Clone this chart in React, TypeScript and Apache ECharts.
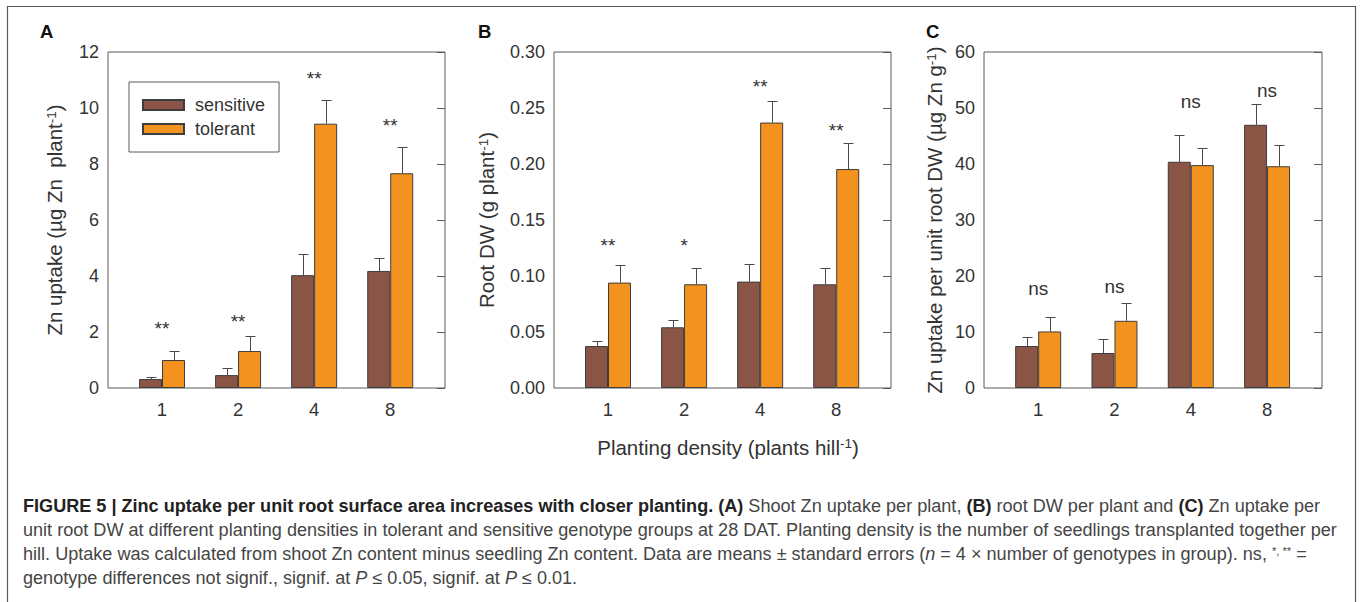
import React, { useEffect, useRef } from 'react';
import * as echarts from 'echarts';

// ---------- data ----------
const categories = ['1', '2', '4', '8'];
const seriesNames = ['sensitive', 'tolerant'];

// Panel A: Zn uptake (µg Zn plant-1)
const uptakeSensitive = [0.32, 0.46, 4.03, 4.18];
const uptakeSensitiveSE = [0.06, 0.24, 0.74, 0.45];
const uptakeTolerant = [1.0, 1.32, 9.44, 7.67];
const uptakeTolerantSE = [0.32, 0.55, 0.85, 0.93];
const uptakeSig = ['**', '**', '**', '**'];
const uptakeSigY = [2.11, 2.36, 11.04, 9.39];

// Panel B: Root DW (g plant-1)
const rootSensitive = [0.0375, 0.0542, 0.095, 0.0926];
const rootSensitiveSE = [0.0045, 0.0068, 0.0157, 0.0149];
const rootTolerant = [0.0941, 0.0926, 0.237, 0.1955];
const rootTolerantSE = [0.0159, 0.0149, 0.019, 0.0233];
const rootSig = ['**', '*', '**', '**'];
const rootSigY = [0.1268, 0.1268, 0.2696, 0.2295];

// Panel C: Zn uptake per unit root DW (µg Zn g-1)
const perRootSensitive = [7.5, 6.25, 40.4, 47.0];
const perRootSensitiveSE = [1.6, 2.55, 4.7, 3.8];
const perRootTolerant = [10.1, 12.0, 39.8, 39.6];
const perRootTolerantSE = [2.5, 3.1, 3.1, 3.8];
const perRootSig = ['ns', 'ns', 'ns', 'ns'];
const perRootSigY = [17.8, 18.2, 51.2, 53.2];

// axis ranges
const yMaxes = [12, 0.3, 60];
const yIntervals = [2, 0.05, 10];
const yDecimals = [0, 2, 0];
const yNames = [
  'Zn uptake (\u00b5g Zn  plant{sup|-1})',
  'Root DW (g plant{sup|-1})',
  'Zn uptake per unit root DW (\u00b5g Zn g{sup|-1})',
];
const xName = 'Planting density (plants hill{sup|-1})';
const panelLetters = ['A', 'B', 'C'];

const captionLines = [
  '{b|FIGURE 5 | Zinc uptake per unit root surface area increases with closer planting. (A)} Shoot Zn uptake per plant, {b|(B)} root DW per plant and {b|(C)} Zn uptake per',
  'unit root DW at different planting densities in tolerant and sensitive genotype groups at 28 DAT. Planting density is the number of seedlings transplanted together per',
  'hill. Uptake was calculated from shoot Zn content minus seedling Zn content. Data are means \u00b1 standard errors ({i|n} = 4 \u00d7 number of genotypes in group). ns, {sup|*, **} =',
  'genotype differences not signif., signif. at {i|P} \u2264 0.05, signif. at {i|P} \u2264 0.01.',
];

// ---------- styles ----------
const FONT = '"Liberation Sans", Arial, Helvetica, sans-serif';
const TXT = '#333';
const FRAME = '#5a5a5a';
const SENS_COLOR = '#8b5546';
const TOL_COLOR = '#f3921e';
const BAR_BORDER = '#3d3d3d';
const ERR_COLOR = '#4a4a4a';
const NAME_SIZE = 20.5;
const SUP_SIZE = 13.5;

const grids = [
  { left: 108, top: 52, width: 337, height: 336 },
  { left: 554, top: 52, width: 337, height: 336 },
  { left: 984, top: 52, width: 338, height: 336 },
];
const nameGaps = [43, 57, 39];
const letterX = [40, 478, 926];

function errItem(offset: number) {
  return (params: any, api: any) => {
    const x = api.value(0);
    const m = api.value(1);
    const s = api.value(2);
    const p0 = api.coord([x, m]);
    const p1 = api.coord([x, m + s]);
    const cx = Math.round(p0[0] + offset) + 0.5;
    const ty = Math.round(p1[1]) + 0.5;
    return {
      type: 'group',
      children: [
        { type: 'line', shape: { x1: cx, y1: p0[1], x2: cx, y2: ty }, style: { stroke: ERR_COLOR, lineWidth: 1 } },
        { type: 'line', shape: { x1: cx - 5, y1: ty, x2: cx + 5, y2: ty }, style: { stroke: ERR_COLOR, lineWidth: 1 } },
      ],
    };
  };
}

function sigItem(labels: string[]) {
  return (params: any, api: any) => {
    const p = api.coord([api.value(0), api.value(1)]);
    return {
      type: 'text',
      x: p[0],
      y: p[1],
      style: {
        text: labels[params.dataIndex],
        fontSize: 19,
        fontFamily: FONT,
        fill: TXT,
        align: 'center',
        verticalAlign: 'middle',
      },
    };
  };
}

export default function App() {
  const ref = useRef<HTMLDivElement>(null);

  useEffect(() => {
    if (!ref.current) return;
    const chart = echarts.init(ref.current, undefined, { renderer: 'svg' });

    // fit caption font size to the reference line width
    let capSize = 16;
    try {
      const ctx = document.createElement('canvas').getContext('2d');
      if (ctx) {
        ctx.font = `16px ${FONT}`;
        const w = ctx.measureText(captionLines[1]).width;
        if (w > 0) capSize = (16 * 1314) / w;
      }
    } catch (e) {
      capSize = 16;
    }

    const panels = [
      [uptakeSensitive, uptakeSensitiveSE, uptakeTolerant, uptakeTolerantSE, uptakeSig, uptakeSigY],
      [rootSensitive, rootSensitiveSE, rootTolerant, rootTolerantSE, rootSig, rootSigY],
      [perRootSensitive, perRootSensitiveSE, perRootTolerant, perRootTolerantSE, perRootSig, perRootSigY],
    ] as any[];

    const series: any[] = [];
    panels.forEach((p, i) => {
      const [sens, sensSE, tol, tolSE, sig, sigY] = p;
      series.push({
        type: 'bar',
        name: seriesNames[0],
        xAxisIndex: i,
        yAxisIndex: i,
        data: sens.map((v: number, k: number) => [k, v]),
        barWidth: 23,
        barGap: '0%',
        itemStyle: { color: SENS_COLOR, borderColor: BAR_BORDER, borderWidth: 1 },
        z: 2,
      });
      series.push({
        type: 'bar',
        name: seriesNames[1],
        xAxisIndex: i,
        yAxisIndex: i,
        data: tol.map((v: number, k: number) => [k, v]),
        barWidth: 23,
        barGap: '0%',
        itemStyle: { color: TOL_COLOR, borderColor: BAR_BORDER, borderWidth: 1 },
        z: 2,
      });
      series.push({
        type: 'custom',
        name: 'errS' + i,
        xAxisIndex: i,
        yAxisIndex: i,
        data: sens.map((v: number, k: number) => [k, v, sensSE[k]]),
        encode: { x: 0, y: 1 },
        renderItem: errItem(-11.5),
        silent: true,
        z: 3,
      });
      series.push({
        type: 'custom',
        name: 'errT' + i,
        xAxisIndex: i,
        yAxisIndex: i,
        data: tol.map((v: number, k: number) => [k, v, tolSE[k]]),
        encode: { x: 0, y: 1 },
        renderItem: errItem(11.5),
        silent: true,
        z: 3,
      });
      series.push({
        type: 'custom',
        name: 'sig' + i,
        xAxisIndex: i,
        yAxisIndex: i,
        data: sigY.map((v: number, k: number) => [k, v]),
        encode: { x: 0, y: 1 },
        renderItem: sigItem(sig),
        silent: true,
        z: 4,
      });
    });

    const xAxis = grids.map((g, i) => ({
      type: 'value',
      gridIndex: i,
      min: -0.71,
      max: 3.72,
      axisLine: { show: false },
      axisTick: { show: false },
      splitLine: { show: false },
      axisLabel: {
        customValues: [0, 1, 2, 3],
        formatter: (v: number) => categories[Math.round(v)] ?? '',
        fontSize: 18.5,
        color: TXT,
        fontFamily: FONT,
        margin: 12,
      },
    }));

    const yLeft = grids.map((g, i) => ({
      type: 'value',
      gridIndex: i,
      min: 0,
      max: yMaxes[i],
      interval: yIntervals[i],
      axisLine: { show: false },
      axisTick: { show: false },
      splitLine: { show: false },
      axisLabel: {
        fontSize: 18,
        color: TXT,
        fontFamily: FONT,
        margin: 9,
        formatter: (v: number) => v.toFixed(yDecimals[i]),
      },
      name: yNames[i],
      nameLocation: 'middle',
      nameGap: nameGaps[i],
      nameTextStyle: {
        fontSize: NAME_SIZE,
        color: TXT,
        fontFamily: FONT,
        rich: { sup: { fontSize: SUP_SIZE, color: TXT, fontFamily: FONT, verticalAlign: 'top' } },
      },
    }));

    const yRight = grids.map((g, i) => ({
      type: 'value',
      gridIndex: i,
      position: 'right',
      min: 0,
      max: yMaxes[i],
      interval: yIntervals[i],
      axisLine: { show: false },
      axisTick: { show: true, inside: true, length: 8, lineStyle: { color: FRAME, width: 1 } },
      splitLine: { show: false },
      axisLabel: { show: false },
    }));

    const graphic: any[] = [];
    // outer frame
    graphic.push({
      type: 'polyline',
      shape: { points: [[7.5, 602], [7.5, 6.5], [1355.5, 6.5], [1355.5, 602]] },
      style: { stroke: FRAME, lineWidth: 1.2, fill: 'none' },
      silent: true,
    });
    panelLetters.forEach((l, i) => {
      graphic.push({
        type: 'text',
        x: letterX[i],
        y: 31,
        style: { text: l, fontSize: 18.5, fontWeight: 'bold', fontFamily: FONT, fill: '#111', verticalAlign: 'middle', align: 'left' },
        silent: true,
      });
    });
    graphic.push({
      type: 'text',
      x: 728,
      y: 447,
      style: {
        text: xName,
        fontSize: NAME_SIZE,
        fontFamily: FONT,
        fill: TXT,
        align: 'center',
        verticalAlign: 'middle',
        rich: { sup: { fontSize: SUP_SIZE, fontFamily: FONT, fill: TXT, verticalAlign: 'top' } },
      },
      silent: true,
    });
    const capY = [506, 530, 554, 578];
    captionLines.forEach((line, i) => {
      graphic.push({
        type: 'text',
        x: 23,
        y: capY[i],
        style: {
          text: line,
          fontSize: capSize,
          fontFamily: FONT,
          fill: '#454545',
          align: 'left',
          verticalAlign: 'middle',
          rich: {
            b: { fontSize: capSize, fontFamily: FONT, fontWeight: 'bold', fill: '#222' },
            i: { fontSize: capSize, fontFamily: FONT, fontStyle: 'italic', fill: '#454545' },
            sup: { fontSize: capSize * 0.62, fontFamily: FONT, fill: '#454545', verticalAlign: 'top' },
          },
        },
        silent: true,
      });
    });

    chart.setOption({
      animation: false,
      backgroundColor: '#ffffff',
      textStyle: { fontFamily: FONT },
      grid: grids.map((g) => ({ ...g, show: true, borderColor: FRAME, borderWidth: 1, backgroundColor: 'transparent', containLabel: false })),
      legend: {
        data: seriesNames,
        orient: 'vertical',
        left: 129,
        top: 82,
        padding: [14, 14, 14, 13],
        itemGap: 6,
        itemWidth: 41,
        itemHeight: 10,
        icon: 'rect',
        borderColor: FRAME,
        borderWidth: 1,
        selectedMode: false,
        textStyle: { fontSize: 18, color: TXT, fontFamily: FONT, padding: [0, 0, 0, 6] },
      },
      xAxis,
      yAxis: [...yLeft, ...yRight],
      series,
      graphic,
    });

    return () => chart.dispose();
  }, []);

  return (
    <div
      ref={ref}
      style={{ position: 'fixed', left: 0, top: 0, width: 1360, height: 602, background: '#fff' }}
    />
  );
}
